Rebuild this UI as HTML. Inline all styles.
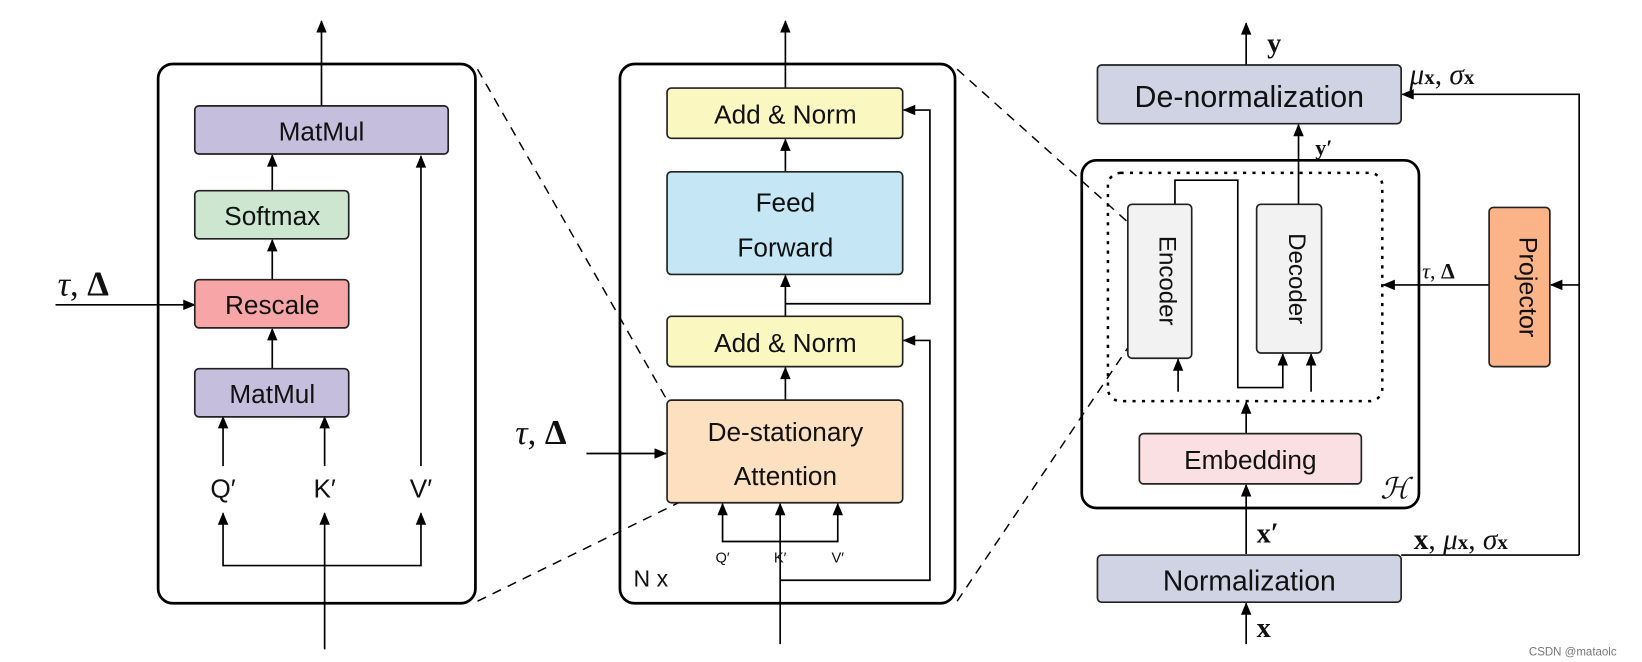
<!DOCTYPE html>
<html><head><meta charset="utf-8"><style>
html,body{margin:0;padding:0;background:#fff;width:1642px;height:662px;overflow:hidden}
text{font-family:"Liberation Sans",sans-serif;fill:#111}
.m{font-family:"Liberation Serif",serif}
</style></head><body>
<svg width="1642" height="662" viewBox="0 0 1568 632" xmlns="http://www.w3.org/2000/svg">
<defs>
<marker id="a" viewBox="0 0 12 10" refX="11" refY="5" markerWidth="13" markerHeight="10" orient="auto-start-reverse" markerUnits="userSpaceOnUse"><path d="M0,0L12,5L0,10z" fill="#000"/></marker>
</defs>
<g stroke="#000" fill="none" stroke-width="1.6">
<rect x="151" y="61" width="303" height="515" rx="14" stroke-width="2.6"/>
<line x1="307" y1="101" x2="307" y2="20" marker-end="url(#a)"/>
<line x1="260" y1="182" x2="260" y2="148" marker-end="url(#a)"/>
<line x1="260" y1="267" x2="260" y2="229" marker-end="url(#a)"/>
<line x1="260" y1="352" x2="260" y2="314" marker-end="url(#a)"/>
<line x1="53" y1="291" x2="186" y2="291" marker-end="url(#a)"/>
<line x1="213" y1="445" x2="213" y2="398" marker-end="url(#a)"/>
<line x1="310" y1="445" x2="310" y2="398" marker-end="url(#a)"/>
<line x1="402" y1="445" x2="402" y2="149" marker-end="url(#a)"/>
<polyline points="213,490 213,540 402,540 402,490" marker-start="url(#a)" marker-end="url(#a)"/>
<line x1="310" y1="620" x2="310" y2="490" marker-end="url(#a)"/>
<g stroke-dasharray="9,7" stroke-width="1.4">
<line x1="456" y1="66" x2="637" y2="382"/>
<line x1="456" y1="574" x2="648" y2="480"/>
<line x1="914" y1="66" x2="1077" y2="212"/>
<line x1="914" y1="574" x2="1077" y2="332"/>
</g>
<rect x="592" y="61" width="320" height="515" rx="14" stroke-width="2.6"/>
<line x1="750" y1="84" x2="750" y2="20" marker-end="url(#a)"/>
<line x1="750" y1="164" x2="750" y2="133" marker-end="url(#a)"/>
<line x1="750" y1="302" x2="750" y2="263" marker-end="url(#a)"/>
<line x1="750" y1="382" x2="750" y2="351" marker-end="url(#a)"/>
<line x1="560" y1="433" x2="636" y2="433" marker-end="url(#a)"/>
<polyline points="690,481 690,517 800,517 800,481" marker-start="url(#a)" marker-end="url(#a)"/>
<line x1="745" y1="615" x2="745" y2="481" marker-end="url(#a)"/>
<polyline points="745,554 888,554 888,325 863,325" marker-end="url(#a)"/>
<polyline points="750,290 888,290 888,105 863,105" marker-end="url(#a)"/>
<rect x="1033" y="153" width="322" height="332" rx="14" stroke-width="2.6"/>
<rect x="1058" y="165" width="262" height="218" rx="12" stroke-dasharray="3,6" stroke-width="2.4"/>
<line x1="1190" y1="62" x2="1190" y2="22" marker-end="url(#a)"/>
<line x1="1240" y1="195" x2="1240" y2="119" marker-end="url(#a)"/>
<polyline points="1508,530 1508,90 1339,90" marker-end="url(#a)"/>
<line x1="1508" y1="272" x2="1481" y2="272" marker-end="url(#a)"/>
<line x1="1338" y1="530" x2="1508" y2="530"/>
<line x1="1422" y1="272" x2="1321" y2="272" marker-end="url(#a)"/>
<polyline points="1122,195 1122,172 1182,172 1182,370 1225,370 1225,338" marker-end="url(#a)"/>
<line x1="1125" y1="374" x2="1125" y2="343" marker-end="url(#a)"/>
<line x1="1252" y1="374" x2="1252" y2="338" marker-end="url(#a)"/>
<line x1="1190" y1="414" x2="1190" y2="384" marker-end="url(#a)"/>
<line x1="1190" y1="529" x2="1190" y2="463" marker-end="url(#a)"/>
<line x1="1190" y1="615" x2="1190" y2="576" marker-end="url(#a)"/>
</g>
<g stroke="#222" stroke-width="1.6">
<rect x="186" y="101" width="242" height="46" rx="4" fill="#c5bfdd"/>
<rect x="186" y="182" width="147" height="46" rx="4" fill="#cce6cf"/>
<rect x="186" y="267" width="147" height="46" rx="4" fill="#f8a5a8"/>
<rect x="186" y="352" width="147" height="46" rx="4" fill="#c5bfdd"/>
<rect x="637" y="84" width="225" height="48" rx="4" fill="#faf7c0"/>
<rect x="637" y="164" width="225" height="98" rx="4" fill="#c4e6f5"/>
<rect x="637" y="302" width="225" height="48" rx="4" fill="#faf7c0"/>
<rect x="637" y="382" width="225" height="98" rx="4" fill="#fde0c0"/>
<rect x="1048" y="62" width="290" height="56" rx="4" fill="#d0d3e3"/>
<rect x="1077" y="195" width="61" height="147" rx="4" fill="#f2f2f2"/>
<rect x="1200" y="195" width="62" height="142" rx="4" fill="#f2f2f2"/>
<rect x="1422" y="198" width="58" height="152" rx="4" fill="#fbb487"/>
<rect x="1088" y="414" width="212" height="48" rx="4" fill="#fbe0e3"/>
<rect x="1048" y="530" width="290" height="45" rx="4" fill="#d0d3e3"/>
</g>
<g font-size="25" text-anchor="middle">
<text x="307" y="134">MatMul</text>
<text x="260" y="215">Softmax</text>
<text x="260" y="300">Rescale</text>
<text x="260" y="385">MatMul</text>
<text x="213" y="475">Q′</text><text x="310" y="475">K′</text><text x="402" y="475">V′</text>
<text x="750" y="118">Add &amp; Norm</text>
<text x="750" y="202">Feed</text><text x="750" y="245">Forward</text>
<text x="750" y="336">Add &amp; Norm</text>
<text x="750" y="421">De-stationary</text><text x="750" y="463">Attention</text>
<text x="1193" y="102" font-size="29">De-normalization</text>
<text x="1194" y="448">Embedding</text>
<text x="1193" y="564" font-size="27">Normalization</text>
<text x="1107" y="268" font-size="23" transform="rotate(90 1107 268)">Encoder</text>
<text x="1231" y="266" font-size="23" transform="rotate(90 1231 266)">Decoder</text>
<text x="1451" y="274" font-size="24" transform="rotate(90 1451 274)">Projector</text>
</g>
<g font-size="14" text-anchor="middle"><text x="690" y="537">Q′</text><text x="745" y="537">K′</text><text x="800" y="537">V′</text></g>
<text x="605" y="560" font-size="22">N x</text>
<g class="m">
<text x="55" y="282" font-size="33" class="m"><tspan font-style="italic">τ</tspan>, <tspan font-weight="bold">Δ</tspan></text>
<text x="492" y="424" font-size="33" class="m"><tspan font-style="italic">τ</tspan>, <tspan font-weight="bold">Δ</tspan></text>
<text x="1358" y="266" font-size="21" class="m"><tspan font-style="italic">τ</tspan>, <tspan font-weight="bold">Δ</tspan></text>
<text x="1210" y="50" font-size="27" font-weight="bold" class="m">y</text>
<text x="1256" y="148" font-size="21" font-weight="bold" class="m">y′</text>
<text x="1200" y="518" font-size="27" font-weight="bold" class="m">x′</text>
<text x="1200" y="608" font-size="27" font-weight="bold" class="m">x</text>
<text x="1346" y="80" font-size="28" class="m"><tspan font-style="italic">μ</tspan><tspan font-weight="bold" font-size="20">x</tspan>, <tspan font-style="italic">σ</tspan><tspan font-weight="bold" font-size="20">x</tspan></text>
<text x="1350" y="524" font-size="28" class="m"><tspan font-weight="bold">x</tspan>, <tspan font-style="italic">μ</tspan><tspan font-weight="bold" font-size="20">x</tspan>, <tspan font-style="italic">σ</tspan><tspan font-weight="bold" font-size="20">x</tspan></text>
<text x="1318" y="476" font-size="28" font-style="italic" class="m">ℋ</text>
</g>
<text x="1460" y="626" font-size="11" style="fill:#777">CSDN @mataolc</text>
</svg>
</body></html>
